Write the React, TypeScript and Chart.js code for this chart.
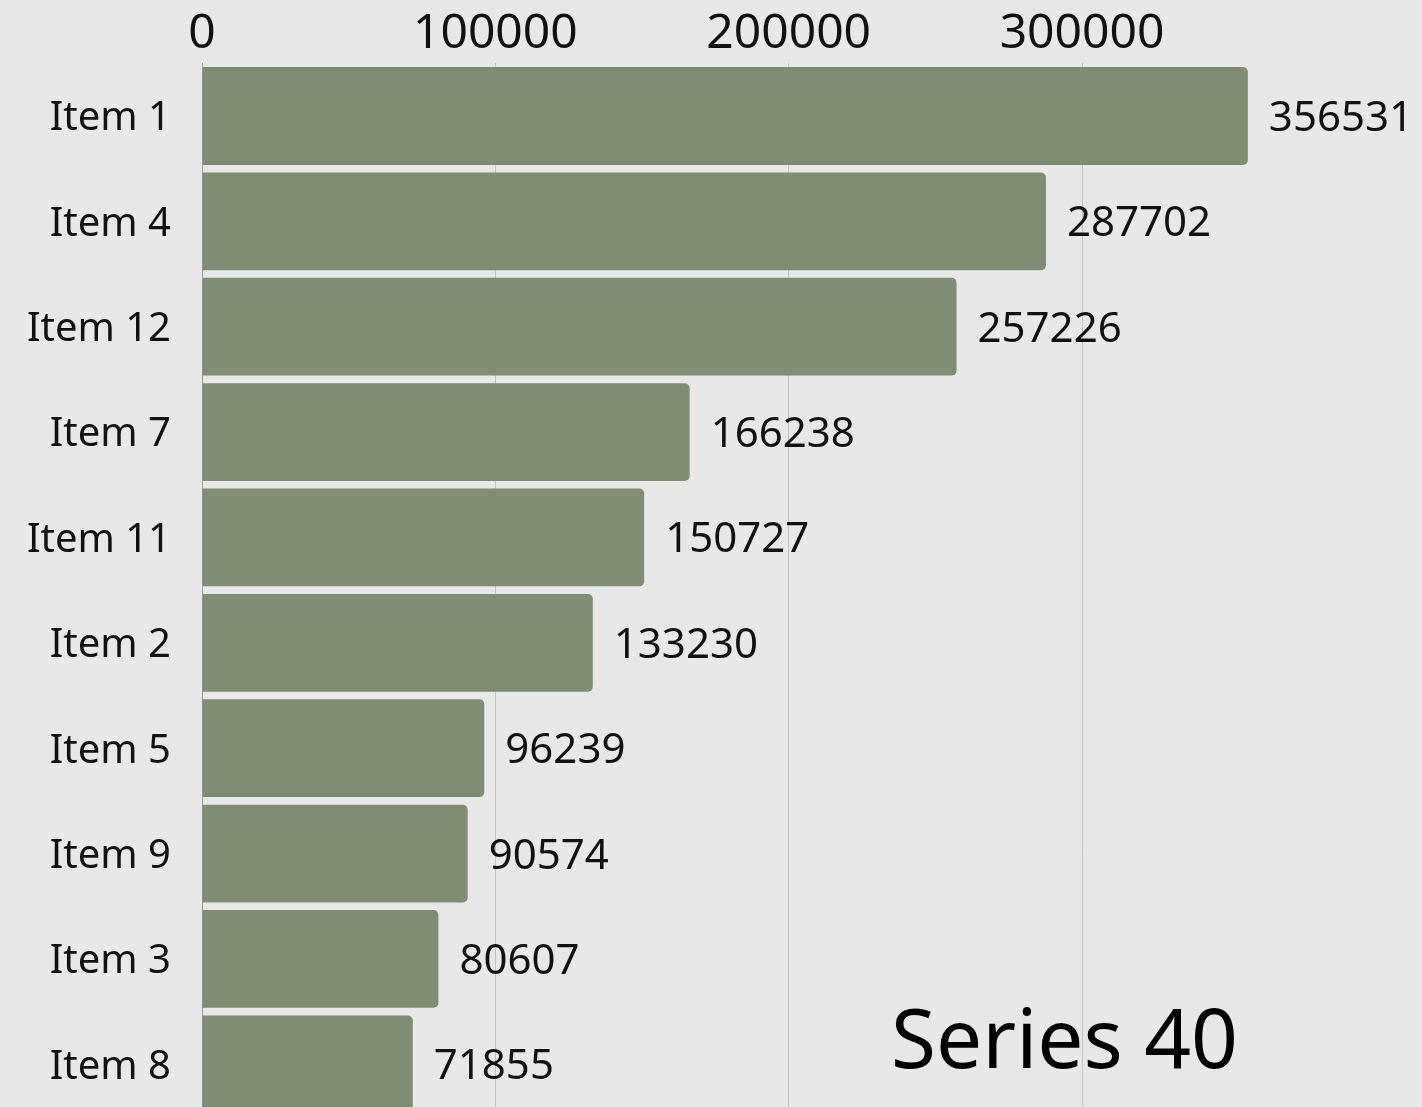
import React, { useEffect, useRef } from "react";
import { Chart, registerables } from "chart.js";

Chart.register(...registerables);

const categories = ["Item 1", "Item 4", "Item 12", "Item 7", "Item 11", "Item 2", "Item 5", "Item 9", "Item 3", "Item 8"];
const values = [356531, 287702, 257226, 166238, 150727, 133230, 96239, 90574, 80607, 71855];
const tickValues = [0, 100000, 200000, 300000];
const seriesTitle = "Series 40";

const FONT = "'Noto Sans', sans-serif";
const BG = "#e8e8e8";
const BAR = "#7f8d72";

export default function App() {
  const ref = useRef<HTMLCanvasElement | null>(null);

  useEffect(() => {
    if (!ref.current) return;
    const labelPlugin = {
      id: "valueLabels",
      beforeDraw(chart: any) {
        const { ctx } = chart;
        ctx.save();
        ctx.fillStyle = BG;
        ctx.fillRect(0, 0, chart.width, chart.height);
        ctx.restore();
      },
      afterDatasetsDraw(chart: any) {
        const { ctx } = chart;
        const meta = chart.getDatasetMeta(0);
        ctx.save();
        ctx.font = `42px ${FONT}`;
        ctx.fillStyle = "#111";
        ctx.textAlign = "left";
        ctx.textBaseline = "middle";
        meta.data.forEach((bar: any, i: number) => {
          ctx.fillText(String(values[i]), bar.x + 21, bar.y + 3);
        });
        ctx.font = `82px ${FONT}`;
        ctx.textAlign = "right";
        ctx.textBaseline = "alphabetic";
        ctx.fillStyle = "#000";
        ctx.fillText(seriesTitle, chart.width - 184, 1068);
        ctx.restore();
      },
    };

    const chart = new Chart(ref.current, {
      type: "bar",
      data: {
        labels: categories,
        datasets: [
          {
            data: values,
            backgroundColor: BAR,
            borderWidth: 0,
            borderRadius: 5,
            borderSkipped: "start",
            barPercentage: 0.928,
            categoryPercentage: 1,
          },
        ],
      },
      options: {
        indexAxis: "y",
        responsive: false,
        animation: false,
        layout: { padding: { top: 0, right: 105.3, bottom: 0, left: 0 } },
        plugins: { legend: { display: false }, tooltip: { enabled: false } },
        scales: {
          x: {
            position: "top",
            min: 0,
            max: 380000,
            afterBuildTicks(scale: any) {
              scale.ticks = tickValues.map((v) => ({ value: v }));
            },
            afterFit(scale: any) {
              scale.height = 63.3;
              scale.paddingLeft = 0;
              scale.paddingRight = 0;
            },
            grid: { color: "#c2c2c2", lineWidth: 1, drawTicks: false },
            border: { display: false },
            ticks: {
              padding: 5,
              color: "#111",
              font: { family: FONT, size: 48, lineHeight: 1 },
              maxRotation: 0,
              autoSkip: false,
              callback: (v: any) => String(v),
            },
          },
          y: {
            afterFit(scale: any) {
              scale.width = 202;
              scale.paddingTop = 0;
              scale.paddingBottom = 0;
            },
            grid: { display: false, drawTicks: false },
            border: { display: true, color: "#9a9a9a", width: 1 },
            ticks: {
              padding: 31,
              labelOffset: 3,
              color: "#111",
              font: { family: FONT, size: 40 },
              autoSkip: false,
            },
          },
        },
      },
      plugins: [labelPlugin],
    } as any);
    return () => chart.destroy();
  }, []);

  return (
    <div style={{ position: "fixed", left: 0, top: 0, width: 1422, height: 1107, overflow: "hidden", background: BG }}>
      <canvas ref={ref} width={1422} height={1117} style={{ display: "block" }} />
    </div>
  );
}
